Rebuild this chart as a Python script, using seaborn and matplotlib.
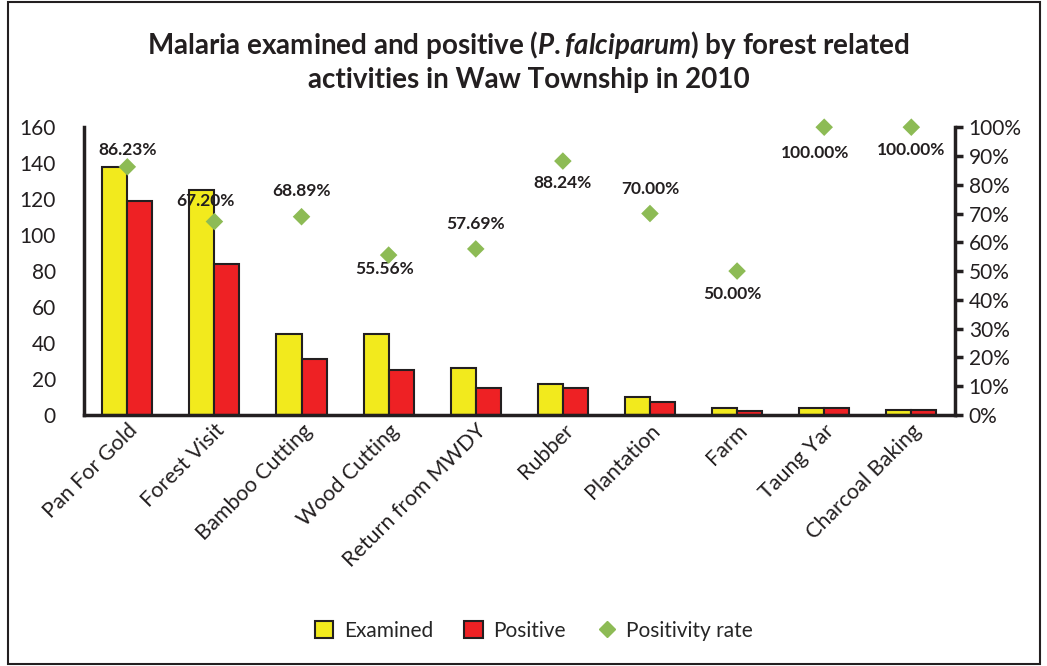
import pandas as pd
import matplotlib.pyplot as plt
import seaborn as sns
from matplotlib.lines import Line2D
from matplotlib.patches import Patch, Rectangle

activities = ["Pan For Gold", "Forest Visit", "Bamboo Cutting", "Wood Cutting",
              "Return from MWDY", "Rubber", "Plantation", "Farm", "Taung Yar",
              "Charcoal Baking"]
examined = [138, 125, 45, 45, 26, 17, 10, 4, 4, 3]
positive = [119, 84, 31, 25, 15, 15, 7, 2, 4, 3]
rate_labels = ["86.23%", "67.20%", "68.89%", "55.56%", "57.69%", "88.24%",
               "70.00%", "50.00%", "100.00%", "100.00%"]
# label offsets (fraction of right axis) relative to each diamond
label_dy = [0.06, 0.07, 0.09, -0.05, 0.085, -0.075, 0.085, -0.08, -0.09, -0.08]
label_dx = [0.0, -0.1, 0.0, -0.05, 0.0, 0.0, 0.0, -0.05, -0.1, 0.0]

rate = [p / e for p, e in zip(positive, examined)]

df = pd.DataFrame({"activity": activities * 2,
                   "value": examined + positive,
                   "series": ["Examined"] * 10 + ["Positive"] * 10})

sns.set_style("white")
plt.rcParams['font.family'] = ['Lato', 'DejaVu Sans']
plt.rcParams['mathtext.fontset'] = 'custom'
plt.rcParams['mathtext.it'] = 'Lato:italic:bold'
plt.rcParams['mathtext.rm'] = 'Lato:bold'

fig = plt.figure(figsize=(10.47, 6.66), dpi=100)
ax = fig.add_axes([0.080, 0.377, 0.832, 0.432])

sns.barplot(data=df, x="activity", y="value", hue="series",
            palette={"Examined": "#F2EA1D", "Positive": "#EE2124"},
            width=0.575, edgecolor="#231F20", linewidth=1.5, ax=ax,
            legend=False, saturation=1)
ax.set_ylim(0, 160)
ax.set_yticks(range(0, 161, 20))
ax.set_xlim(-0.5, 9.5)
ax.set_xlabel("")
ax.set_ylabel("")
ax.tick_params(axis="y", labelsize=15, colors="#231F20", length=0, pad=20)
ax.tick_params(axis="x", labelsize=15.5, colors="#231F20", length=0, pad=4)
plt.setp(ax.get_xticklabels(), rotation=45, ha="right", rotation_mode="anchor")
for s in ["top", "right"]:
    ax.spines[s].set_visible(False)
for s in ["left", "bottom"]:
    ax.spines[s].set_color("#231F20")
    ax.spines[s].set_linewidth(2.5)

ax2 = ax.twinx()
rdf = pd.DataFrame({"x": range(10), "rate": rate})
sns.scatterplot(data=rdf, x="x", y="rate", marker="D", s=80, color="#8DBB55",
                edgecolor="none", ax=ax2, zorder=5, clip_on=False)
ax2.set_ylim(0, 1)
ax2.set_xlim(-0.5, 9.5)
ax2.set_yticks([i / 10 for i in range(11)])
ax2.set_yticklabels([f"{i * 10}%" for i in range(11)])
ax2.set_ylabel("")
ax2.tick_params(axis="y", labelsize=15, colors="#231F20", length=6, width=2.5,
                direction="out", pad=4)
for s in ["top", "left", "bottom"]:
    ax2.spines[s].set_visible(False)
ax2.spines["right"].set_color("#231F20")
ax2.spines["right"].set_linewidth(2.5)

for i, (r, lab) in enumerate(zip(rate, rate_labels)):
    ax2.text(i + label_dx[i], r + label_dy[i], lab, ha="center", va="center",
             fontsize=12.5, fontweight="bold", color="#231F20")

fig.suptitle("Malaria examined and positive ($\\it{P{.}falciparum}$) by forest related\n"
             "activities in Waw Township in 2010",
             x=0.505, y=0.957, fontsize=20, fontweight="bold", color="#231F20",
             linespacing=1.3)

handles = [Patch(facecolor="#F2EA1D", edgecolor="#231F20", linewidth=1.5),
           Patch(facecolor="#EE2124", edgecolor="#231F20", linewidth=1.5),
           Line2D([], [], marker="D", linestyle="none", color="#8DBB55",
                  markersize=8)]
fig.legend(handles, ["Examined", "Positive", "Positivity rate"], ncol=3,
           loc="center", bbox_to_anchor=(0.51, 0.053), frameon=False,
           fontsize=15, handlelength=0.9, handleheight=0.9, columnspacing=1.5,
           handletextpad=0.5)

fig.patches.append(Rectangle((0.008, 0.003), 0.985, 0.994, transform=fig.transFigure,
                             fill=False, edgecolor="#231F20", linewidth=1.5))

fig.savefig("out.png", dpi=100)
